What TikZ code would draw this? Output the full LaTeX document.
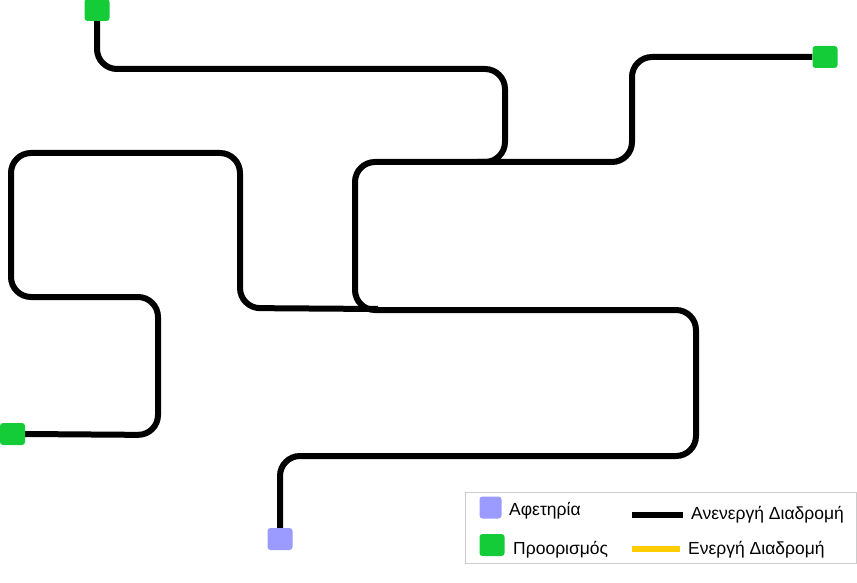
\documentclass[tikz,border=0pt]{standalone}
\usepackage{fontspec}
\setmainfont{Liberation Sans}
\usetikzlibrary{backgrounds}
\definecolor{destgreen}{RGB}{20,204,55}
\definecolor{startblue}{RGB}{155,155,255}
\definecolor{activeyellow}{RGB}{255,204,0}
\definecolor{legendgray}{RGB}{204,204,204}
\tikzset{
  route/.style={line width=6pt, black, rounded corners=20pt},
  startsq/.style={fill=startblue, rounded corners=3pt, inner sep=0pt, minimum width=25pt, minimum height=22pt},
  destsq/.style={fill=destgreen, rounded corners=3pt, inner sep=0pt, minimum width=25pt, minimum height=22pt},
  legsq/.style={rounded corners=3pt, inner sep=0pt, minimum width=22pt, minimum height=22pt},
  legtext/.style={anchor=base west, inner sep=0pt, font=\fontsize{17.5}{20}\selectfont},
}
\begin{document}
\begin{tikzpicture}[x=1pt,y=-1pt]
\useasboundingbox (0,0) rectangle (857,583);
% start and destinations
\node[startsq] (s) at (280,539) {};
\node[destsq] (d1) at (97,10) {};
\node[destsq] (d2) at (825,57) {};
\node[destsq] (d3) at (12.5,434) {};
\coordinate (j1) at (478,162);
\coordinate (j2) at (378,309);
\begin{scope}[on background layer]
\draw[route] (s.north) -- (280,456) -- (696,456) -- (696,310) -- (355,310) -- (355,162) -- (632,162) -- (632,57) -- (d2.west);
\draw[route] (j1) -- (505,162) -- (505,69) -- (97,69) -- (d1.south);
\draw[route] (j2) -- (240,308) -- (240,153) -- (11,153) -- (11,297) -- (158,297) -- (158,435) -- (d3.east);
\end{scope}
% legend
\node[draw=legendgray, line width=1pt, fill=white, minimum width=391pt, minimum height=71pt, inner sep=0pt] (leg) at (660.5,527.5) {};
\node[legsq, fill=startblue] (l1) at (490.5,507.5) {};
\node[legtext] (t1) at (509,515.5) {Αφετηρία};
\node[legsq, fill=destgreen, minimum width=25pt] (l2) at (492,545) {};
\node[legtext] (t2) at (513,554) {Προορισμός};
\coordinate (b1) at (632,514.5);
\coordinate (b2) at (683,514.5);
\draw[line width=6pt, black] (b1) -- (b2);
\node[legtext] (t3) at (691,519.5) {Ανενεργή Διαδρομή};
\coordinate (y1) at (632,548.5);
\coordinate (y2) at (680,548.5);
\draw[line width=6pt, activeyellow] (y1) -- (y2);
\node[legtext] (t4) at (688,554) {Ενεργή Διαδρομή};
\end{tikzpicture}
\end{document}
